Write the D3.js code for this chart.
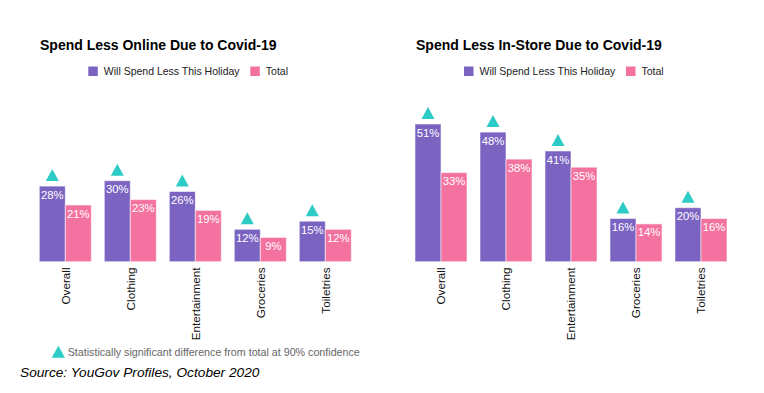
<!DOCTYPE html>
<html><head><meta charset="utf-8">
<script src="https://cdn.jsdelivr.net/npm/d3@7"></script>
<style>body{margin:0;background:#fff;}svg{display:block;font-family:"Liberation Sans",Arial,sans-serif;}</style>
</head><body><svg id="c" width="764" height="393"></svg>
<script>
const categories = ["Overall","Clothing","Entertainment","Groceries","Toiletries"];
const seriesNames = ["Will Spend Less This Holiday","Total"];
const onlineHoliday = [28,30,26,12,15];
const onlineTotal = [21,23,19,9,12];
const storeHoliday = [51,48,41,16,20];
const storeTotal = [33,38,35,14,16];
const onlineSignificant = [true,true,true,true,true];
const storeSignificant = [true,true,true,true,true];
const colors = ["#7A63C1","#F4729F"];
const teal = "#2CCBC5";

const svg = d3.select("#c");
const baseY = 261.7;
const y = d3.scaleLinear().domain([0,60]).range([baseY, baseY-60*2.7]);

function panel(x0, title, titleX, legX, holiday, total, sig) {
  const g = svg.append("g");
  g.append("text").attr("x", titleX).attr("y", 50).attr("font-size", 14).attr("font-weight", "bold").attr("fill", "#000").text(title);
  // legend
  const lg = g.append("g").attr("transform", `translate(${legX},66.5)`);
  lg.append("rect").attr("x",0).attr("y",0).attr("width",9.5).attr("height",9.5).attr("fill",colors[0]);
  lg.append("text").attr("x",15.5).attr("y",8.8).attr("font-size",10.5).attr("fill","#222").text(seriesNames[0]);
  lg.append("rect").attr("x",162).attr("y",0).attr("width",9.5).attr("height",9.5).attr("fill",colors[1]);
  lg.append("text").attr("x",177.5).attr("y",8.8).attr("font-size",10.5).attr("fill","#222").text(seriesNames[1]);

  const x = d3.scaleBand().domain(categories).range([x0, x0+312]).paddingInner(0.2).paddingOuter(0);
  const xs = d3.scaleBand().domain([0,1]).range([0, x.bandwidth()]);
  categories.forEach((c,i) => {
    const vals = [holiday[i], total[i]];
    vals.forEach((v,j) => {
      const bx = x(c) + xs(j);
      g.append("rect").attr("x", bx).attr("y", y(v)).attr("width", xs.bandwidth()).attr("height", baseY - y(v))
        .attr("fill", colors[j]).attr("stroke", "rgba(255,255,255,0.55)").attr("stroke-width", 1);
      g.append("text").attr("x", bx + xs.bandwidth()/2).attr("y", y(v) + 12.5).attr("text-anchor","middle")
        .attr("font-size", 11.3).attr("fill","#fff").text(v + "%");
    });
    if (sig[i]) {
      const cx = x(c) + xs(0) + xs.bandwidth()/2;
      const ty = y(holiday[i]) - 5;
      g.append("path").attr("d", `M${cx-6.5},${ty} L${cx+6.5},${ty} L${cx},${ty-12} Z`).attr("fill", teal);
    }
    g.append("text").attr("transform", `translate(${x(c)+x.bandwidth()/2+4.2},267.5) rotate(-90)`)
      .attr("text-anchor","end").attr("font-size",11.7).attr("fill","#111").text(c);
  });
}

panel(39.3, "Spend Less Online Due to Covid-19", 40, 88.3, onlineHoliday, onlineTotal, onlineSignificant);
panel(415, "Spend Less In-Store Due to Covid-19", 416, 464, storeHoliday, storeTotal, storeSignificant);

// footnote
svg.append("path").attr("d", "M51.7,357.7 L65,357.7 L58.35,345.7 Z").attr("fill", teal);
svg.append("text").attr("x", 67.7).attr("y", 356).attr("font-size", 10.7).attr("fill", "#666")
  .text("Statistically significant difference from total at 90% confidence");
svg.append("text").attr("x", 20).attr("y", 377).attr("font-size", 13.7).attr("font-style","italic").attr("fill","#000")
  .text("Source: YouGov Profiles, October 2020");
</script></body></html>
